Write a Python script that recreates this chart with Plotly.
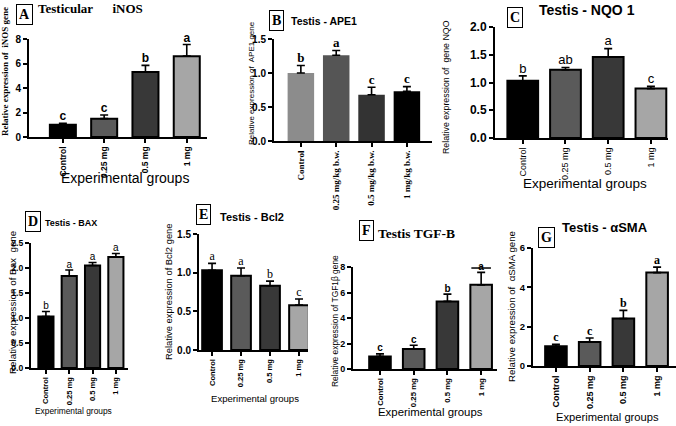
import plotly.graph_objects as go

W, H = 676, 426

# ======================
# Données
# ======================
groups = ["Control", "0.25 mg", "0.5 mg", "1 mg"]
ape1_groups = ["Control", "0.25 mg/kg b.w.", "0.5 mg/kg b.w.", "1 mg/kg b.w."]

inos_mean = [1.0, 1.5, 5.3, 6.6]
inos_err = [0.12, 0.3, 0.55, 0.95]
inos_letters = ["c", "c", "b", "a"]

ape1_mean = [1.0, 1.26, 0.68, 0.73]
ape1_err = [0.11, 0.07, 0.11, 0.07]
ape1_letters = ["b", "a", "c", "c"]

nqo1_mean = [1.03, 1.23, 1.46, 0.89]
nqo1_err = [0.09, 0.04, 0.15, 0.04]
nqo1_letters = ["b", "ab", "a", "c"]

bax_mean = [1.03, 1.84, 2.05, 2.22]
bax_err = [0.1, 0.12, 0.06, 0.07]
bax_letters = ["b", "a", "a", "a"]

bcl2_mean = [1.03, 0.96, 0.83, 0.58]
bcl2_err = [0.09, 0.1, 0.06, 0.08]
bcl2_letters = ["a", "a", "b", "c"]

tgf_mean = [0.99, 1.56, 5.3, 6.6]
tgf_err = [0.2, 0.3, 0.57, 0.98]
tgf_letters = ["c", "c", "b", "a"]
tgf_stray = 7.92  # petit trait au-dessus de la barre 1 mg

asma_mean = [1.0, 1.22, 2.41, 4.75]
asma_err = [0.1, 0.2, 0.42, 0.28]
asma_letters = ["c", "c", "b", "a"]

grey_colors = ["#000000", "#5a5a5a", "#383838", "#a6a6a6"]
ape1_colors = ["#8c8c8c", "#555555", "#333333", "#000000"]

ARIAL = "Liberation Sans, Arial, sans-serif"
TIMES = "Liberation Serif, Times New Roman, serif"


def px_x(v):
    return v / W


def px_y(v):
    return 1 - v / H


def f(family, size, bold=False):
    d = dict(family=family, size=size, color="black")
    if bold:
        d["weight"] = "bold"
    return d


# un dict par panneau (positions en pixels de l'image)
panels = [
    dict(cats=groups, mean=inos_mean, err=inos_err, letters=inos_letters, colors=grey_colors, outline=True,
         x0=29, x1=207, yt=39, yb=137, xr=[-0.82, 3.49], ymax=8, dtick=2, fmt="d", bw=0.63,
         tickfont=f(ARIAL, 8.5, True), yfont=f(ARIAL, 10, True), letterfont=f(ARIAL, 12, True),
         ytitle="Relative expression of  iNOS gene", ytx=5, yty=72, ytfont=f(TIMES, 9, True),
         xtitle="Experimental groups", xtx=125, xty=178, xtfont=f(ARIAL, 14)),
    dict(cats=ape1_groups, mean=ape1_mean, err=ape1_err, letters=ape1_letters, colors=ape1_colors, outline=False,
         x0=274, x1=432, yt=39, yb=141, xr=[-0.76, 3.71], ymax=1.5, dtick=0.5, fmt=".1f", bw=0.75,
         tickfont=f(TIMES, 9, True), yfont=f(ARIAL, 10, True), letterfont=f(TIMES, 13, True),
         ytitle="Relative expression of  APE1 gene", ytx=251, yty=83, ytfont=f(ARIAL, 8),
         xtitle=None),
    dict(cats=groups, mean=nqo1_mean, err=nqo1_err, letters=nqo1_letters, colors=grey_colors, outline=True,
         x0=495, x1=668, yt=27, yb=138, xr=[-0.65, 3.4], ymax=2.0, dtick=0.5, fmt=".1f", bw=0.72,
         tickfont=f(ARIAL, 9), yfont=f(ARIAL, 12, True), letterfont=f(ARIAL, 13),
         ytitle="Relative expression of  gene NQO", ytx=446, yty=87, ytfont=f(ARIAL, 8.8),
         xtitle="Experimental groups", xtx=585, xty=183, xtfont=f(ARIAL, 13.5)),
    dict(cats=groups, mean=bax_mean, err=bax_err, letters=bax_letters, colors=grey_colors, outline=True,
         x0=31, x1=128, yt=243, yb=368, xr=[-0.64, 3.52], ymax=2.5, dtick=0.5, fmt=".1f", bw=0.65,
         tickfont=f(ARIAL, 7.6, True), yfont=f(ARIAL, 8.6, True), letterfont=f(ARIAL, 10),
         ytitle="Relative expression of Bax  gene", ytx=12, yty=302, ytfont=f(ARIAL, 9.8),
         xtitle="Experimental groups", xtx=73, xty=411, xtfont=f(ARIAL, 8.4)),
    dict(cats=groups, mean=bcl2_mean, err=bcl2_err, letters=bcl2_letters, colors=grey_colors, outline=True,
         x0=199, x1=308, yt=234, yb=350, xr=[-0.45, 3.31], ymax=1.5, dtick=0.5, fmt=".1f", bw=0.68,
         tickfont=f(ARIAL, 7.6, True), yfont=f(ARIAL, 10, True), letterfont=f(TIMES, 12),
         ytitle="Relative expression of Bcl2 gene", ytx=168, yty=292, ytfont=f(ARIAL, 9.4),
         xtitle="Experimental groups", xtx=255, xty=398, xtfont=f(ARIAL, 9.6)),
    dict(cats=groups, mean=tgf_mean, err=tgf_err, letters=tgf_letters, colors=grey_colors, outline=True,
         x0=353, x1=497, yt=267, yb=369, xr=[-0.8, 3.47], ymax=8, dtick=2, fmt="d", bw=0.64,
         tickfont=f(ARIAL, 7.8, True), yfont=f(ARIAL, 9, True), letterfont=f(ARIAL, 10, True),
         ytitle="Relative expression of TGF1β gene", ytx=335, yty=321, ytfont=f(ARIAL, 8.4),
         xtitle="Experimental groups", xtx=430, xty=412, xtfont=f(ARIAL, 11.4)),
    dict(cats=groups, mean=asma_mean, err=asma_err, letters=asma_letters, colors=grey_colors, outline=True,
         x0=533, x1=676, yt=248, yb=366, xr=[-0.68, 3.56], ymax=6, dtick=2, fmt="d", bw=0.64,
         tickfont=f(ARIAL, 9, True), yfont=f(ARIAL, 9.5, True), letterfont=f(TIMES, 12, True),
         ytitle="Relative expression of  αSMA gene", ytx=511, yty=307, ytfont=f(ARIAL, 9.7),
         xtitle="Experimental groups", xtx=607, xty=417, xtfont=f(ARIAL, 11.2)),
]

# lettres de panneau (cadre) et titres
titles = [
    ("A", 24, 14, "Testicular      iNOS", 90, 9, f(TIMES, 13, True)),
    ("B", 276, 20, "Testis - APE1", 324, 21, f(ARIAL, 10.5, True)),
    ("C", 515, 17, "Testis - NQO 1", 587, 10, f(ARIAL, 14, True)),
    ("D", 33, 221, "Testis - BAX", 71, 223, f(ARIAL, 9, True)),
    ("E", 203, 214, "Testis - Bcl2", 252, 217, f(ARIAL, 11, True)),
    ("F", 366, 230, "Testis TGF-B", 416, 233, f(TIMES, 13.5, True)),
    ("G", 546, 237, "Testis - αSMA", 605, 228, f(ARIAL, 13, True)),
]

fig = go.Figure()
layout_axes = {}
annotations = []

for i, p in enumerate(panels, start=1):
    xa = "x" if i == 1 else f"x{i}"
    ya = "y" if i == 1 else f"y{i}"
    tops = [m + e for m, e in zip(p["mean"], p["err"])]

    fig.add_trace(go.Bar(
        x=p["cats"], y=p["mean"], xaxis=xa, yaxis=ya,
        width=p["bw"],
        marker=dict(color=p["colors"],
                    line=dict(color="black", width=2 if p["outline"] else 0)),
        error_y=dict(type="data", symmetric=False, array=p["err"], arrayminus=[0] * 4,
                     color="black", thickness=1.6, width=4),
        showlegend=False,
    ))
    fig.add_trace(go.Scatter(
        x=p["cats"], y=tops, xaxis=xa, yaxis=ya,
        mode="text", text=p["letters"], textposition="top center",
        textfont=p["letterfont"], showlegend=False, cliponaxis=False,
    ))

    xkey = "xaxis" if i == 1 else f"xaxis{i}"
    ykey = "yaxis" if i == 1 else f"yaxis{i}"
    layout_axes[xkey] = dict(
        domain=[px_x(p["x0"]), px_x(p["x1"])], anchor=ya,
        range=p["xr"], showline=True, linecolor="black", linewidth=2,
        ticks="outside", ticklen=4, tickwidth=2, tickcolor="black",
        tickangle=-90, tickfont=p["tickfont"], showgrid=False, zeroline=False,
        automargin=False, fixedrange=True,
    )
    layout_axes[ykey] = dict(
        domain=[px_y(p["yb"]), px_y(p["yt"])], anchor=xa,
        range=[0, p["ymax"]], dtick=p["dtick"], tickformat=p["fmt"],
        showline=True, linecolor="black", linewidth=2,
        ticks="outside", ticklen=4, tickwidth=2, tickcolor="black",
        tickfont=p["yfont"],
        showgrid=False, zeroline=False, automargin=False, fixedrange=True,
    )

    annotations.append(dict(
        text=p["ytitle"], x=px_x(p["ytx"]), y=px_y(p["yty"]), xref="paper", yref="paper",
        textangle=-90, showarrow=False, font=p["ytfont"], xanchor="center", yanchor="middle",
    ))
    if p["xtitle"]:
        annotations.append(dict(
            text=p["xtitle"], x=px_x(p["xtx"]), y=px_y(p["xty"]), xref="paper", yref="paper",
            showarrow=False, font=p["xtfont"], xanchor="center", yanchor="middle",
        ))

# trait isolé au-dessus de la barre 1 mg du panneau F
fig.add_trace(go.Scatter(
    x=[groups[-1]], y=[tgf_stray], xaxis="x6", yaxis="y6", mode="markers",
    marker=dict(symbol="line-ew", size=14, line=dict(color="black", width=1.5)),
    showlegend=False, cliponaxis=False,
))

for letter, bx, by, title, tx, ty, tfont in titles:
    annotations.append(dict(
        text=f"<b>{letter}</b>", x=px_x(bx), y=px_y(by), xref="paper", yref="paper",
        showarrow=False, font=f(TIMES, 14),
        bordercolor="black", borderwidth=1, borderpad=2, bgcolor="white",
        xanchor="center", yanchor="middle",
    ))
    annotations.append(dict(
        text=title, x=px_x(tx), y=px_y(ty), xref="paper", yref="paper",
        showarrow=False, font=tfont, xanchor="center", yanchor="middle",
    ))

fig.update_layout(
    width=W, height=H,
    margin=dict(l=0, r=0, t=0, b=0, autoexpand=False),
    paper_bgcolor="white", plot_bgcolor="white",
    annotations=annotations,
    bargap=0.3,
    **layout_axes,
)

# marge par défaut du <body> (8px) supprimée pour caler la figure sur la fenêtre
fig.write_html("out.html", config=dict(displayModeBar=False),
               post_script="document.body.style.margin='0px';")
